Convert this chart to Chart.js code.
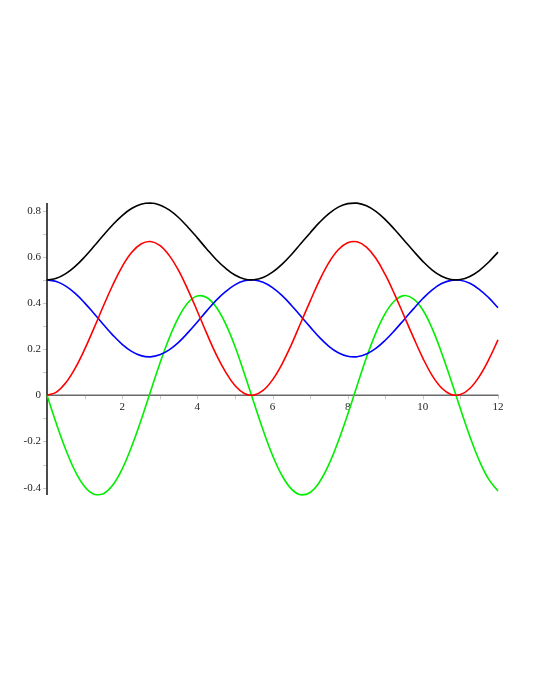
<!DOCTYPE html>
<html>
<head>
<meta charset="utf-8">
<script src="https://cdn.jsdelivr.net/npm/chart.js@4/dist/chart.umd.min.js"></script>
<style>
html,body{margin:0;padding:0;background:#fff;}
#wrap{width:540px;height:699px;}
</style>
</head>
<body>
<div id="wrap"><canvas id="c" width="540" height="699"></canvas></div>
<script>
const tValues = [0,0.25,0.5,0.75,1,1.25,1.5,1.75,2,2.25,2.5,2.75,3,3.25,3.5,3.75,4,4.25,4.5,4.75,5,5.25,5.5,5.75,6,6.25,6.5,6.75,7,7.25,7.5,7.75,8,8.25,8.5,8.75,9,9.25,9.5,9.75,10,10.25,10.5,10.75,11,11.25,11.5,11.75,12];
const blackValues = [0.5,0.5069,0.5270,0.5587,0.5993,0.6455,0.6934,0.7391,0.7790,0.8094,0.8280,0.8333,0.8248,0.8032,0.7705,0.7285,0.6822,0.6341,0.5887,0.5508,0.5213,0.5040,0.5004,0.5105,0.5334,0.5673,0.6094,0.6567,0.7036,0.7491,0.7875,0.8155,0.8306,0.8326,0.8210,0.7968,0.7614,0.7187,0.6722,0.6254,0.5806,0.5427,0.5159,0.5019,0.5016,0.5148,0.5405,0.5766,0.6203];
const redValues = [0,0.0138,0.0540,0.1174,0.1987,0.2909,0.3868,0.4781,0.5580,0.6187,0.6559,0.6665,0.6496,0.6063,0.5409,0.4569,0.3644,0.2682,0.1775,0.1015,0.0425,0.0081,0.0008,0.0210,0.0668,0.1345,0.2187,0.3133,0.4071,0.4981,0.5750,0.6309,0.6612,0.6651,0.6419,0.5936,0.5227,0.4374,0.3443,0.2507,0.1613,0.0853,0.0318,0.0039,0.0031,0.0296,0.0811,0.1532,0.2405];
const blueValues = [0.5,0.4931,0.4730,0.4413,0.4007,0.3545,0.3066,0.2609,0.2210,0.1906,0.1720,0.1667,0.1752,0.1968,0.2295,0.2715,0.3178,0.3659,0.4113,0.4492,0.4787,0.4960,0.4996,0.4895,0.4666,0.4327,0.3906,0.3433,0.2964,0.2509,0.2125,0.1845,0.1694,0.1674,0.1790,0.2032,0.2386,0.2813,0.3278,0.3746,0.4194,0.4573,0.4841,0.4981,0.4984,0.4852,0.4595,0.4234,0.3797];
const greenValues = [0,-0.1230,-0.2358,-0.3291,-0.3952,-0.4285,-0.4264,-0.3891,-0.3194,-0.2229,-0.1091,0.0147,0.1368,0.2474,0.3376,0.4012,0.4302,0.4239,0.3825,0.3105,0.2125,0.0944,-0.0295,-0.1506,-0.2595,-0.3469,-0.4055,-0.4312,-0.4211,-0.3758,-0.2995,-0.1989,-0.0832,0.0418,0.1636,0.2706,0.3553,0.4099,0.4320,0.4177,0.3697,0.2888,0.1836,0.0651,-0.0587,-0.1779,-0.2824,-0.3635,-0.4152];

const xTickValues = [2,4,6,8,10,12];
const xTickLabels = ['2','4','6','8','10','12'];
const xMinorTicks = [1,2,3,4,5,6,7,8,9,10,11,12];
const yTickValues = [0.8,0.6,0.4,0.2,0,-0.2,-0.4];
const yTickLabels = ['0.8','0.6','0.4','0.2','0','-0.2','-0.4'];
const yMinorTicks = [0.8,0.7,0.6,0.5,0.4,0.3,0.2,0.1,-0.1,-0.2,-0.3,-0.4];

function pts(vals){ return tValues.map((t,i)=>({x:t,y:vals[i]})); }

const axesPlugin = {
  id:'mapleAxes',
  beforeDatasetsDraw(chart){
    const ctx = chart.ctx, xs = chart.scales.x, ys = chart.scales.y, a = chart.chartArea;
    const x0 = xs.getPixelForValue(0), y0 = ys.getPixelForValue(0);
    ctx.save();
    ctx.strokeStyle = '#c8c8c8';
    ctx.lineWidth = 1;
    ctx.beginPath();
    xMinorTicks.forEach(v=>{ const px = Math.round(xs.getPixelForValue(v))+0.5; ctx.moveTo(px,y0); ctx.lineTo(px,y0+4); });
    yMinorTicks.forEach(v=>{ const py = Math.round(ys.getPixelForValue(v))+0.5; ctx.moveTo(x0-4,py); ctx.lineTo(x0,py); });
    ctx.stroke();
    ctx.strokeStyle = '#6a6a6a';
    ctx.lineWidth = 1.5;
    ctx.beginPath();
    ctx.moveTo(x0, y0); ctx.lineTo(xs.getPixelForValue(12)+0.5, y0);
    ctx.stroke();
    ctx.strokeStyle = '#111';
    ctx.lineWidth = 1.5;
    ctx.beginPath();
    ctx.moveTo(x0, a.top); ctx.lineTo(x0, a.bottom);
    ctx.stroke();
    ctx.fillStyle = '#222';
    ctx.font = '11px "Liberation Serif", serif';
    ctx.textAlign = 'center'; ctx.textBaseline = 'top';
    xTickValues.forEach((v,i)=>{ ctx.fillText(xTickLabels[i], xs.getPixelForValue(v), y0+6); });
    ctx.textAlign = 'right'; ctx.textBaseline = 'middle';
    yTickValues.forEach((v,i)=>{ ctx.fillText(yTickLabels[i], x0-6, ys.getPixelForValue(v)); });
    ctx.restore();
  }
};

const common = {borderWidth:1.6, pointRadius:0, fill:false, tension:0.4, clip:false};

new Chart(document.getElementById('c'), {
  type:'line',
  data:{
    datasets:[
      Object.assign({label:'black', data:pts(blackValues), borderColor:'#000000'}, common),
      Object.assign({label:'red', data:pts(redValues), borderColor:'#ff0000'}, common),
      Object.assign({label:'blue', data:pts(blueValues), borderColor:'#0000ff'}, common),
      Object.assign({label:'green', data:pts(greenValues), borderColor:'#00ee00'}, common)
    ]
  },
  options:{
    responsive:false,
    animation:false,
    layout:{padding:{left:47, right:42, top:203, bottom:204}},
    plugins:{legend:{display:false}, tooltip:{enabled:false}},
    scales:{
      x:{type:'linear', min:0, max:12, display:false},
      y:{type:'linear', min:-0.432, max:0.8333, display:false}
    }
  },
  plugins:[axesPlugin]
});
</script>
</body>
</html>
